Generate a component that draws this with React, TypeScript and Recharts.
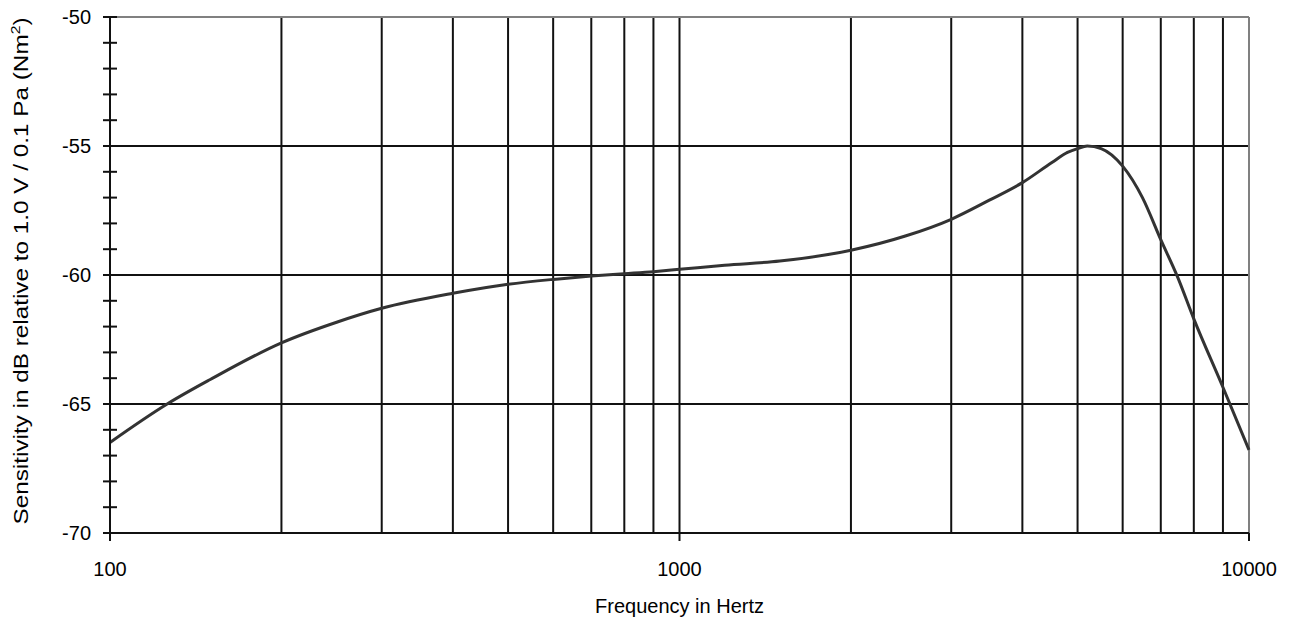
import {
  LineChart,
  Line,
  XAxis,
  YAxis,
  ReferenceLine,
} from "recharts";

// frequency (Hz) and sensitivity (dB)
const freqs = [
  100, 126, 150, 200, 250, 300, 400, 500, 600, 700, 800, 900, 1000, 1200, 1500,
  2000, 2500, 3000, 3500, 4000, 4500, 4800, 5000, 5200, 5500, 6000, 6500, 7000,
  7500, 8000, 9000, 10000,
];
const sensitivity = [
  -66.49, -65.0, -64.05, -62.63, -61.83, -61.29, -60.71, -60.36, -60.17, -60.04,
  -59.95, -59.87, -59.78, -59.62, -59.46, -59.04, -58.48, -57.84, -57.1, -56.42,
  -55.65, -55.25, -55.1, -55.0, -55.1, -55.78, -57.0, -58.63, -60.1, -61.7,
  -64.35, -66.78,
];

const xTicks = [100, 1000, 10000];
const xGrid = [200, 300, 400, 500, 600, 700, 800, 900, 1000, 2000, 3000, 4000, 5000, 6000, 7000, 8000, 9000];
const yTicks = [-70, -69, -68, -67, -66, -65, -64, -63, -62, -61, -60, -59, -58, -57, -56, -55, -54, -53, -52, -51, -50];
const yGrid = [-55, -60, -65];

const data = freqs.map((f, i) => ({ f, db: sensitivity[i] }));

const FONT = "'Liberation Sans', Arial, sans-serif";
const INK = "#111";

function YTick({ x, y, payload }: any) {
  const major = payload.value % 5 === 0;
  return (
    <g>
      <line x1={x - 7} x2={x + 7} y1={y} y2={y} stroke={INK} strokeWidth={2} />
      {major && (
        <text x={x - 19} y={y + 7} textAnchor="end" fontSize={20} fontFamily={FONT} fill="#000">
          {payload.value}
        </text>
      )}
    </g>
  );
}

function XTick({ x, y, payload }: any) {
  return (
    <g>
      <line x1={x} x2={x} y1={y} y2={y + 8} stroke={INK} strokeWidth={2} />
      <text x={x} y={y + 43} textAnchor="middle" fontSize={20} fontFamily={FONT} fill="#000">
        {payload.value}
      </text>
    </g>
  );
}

// the original title is stretched along its length
function YTitle({ viewBox }: any) {
  const cx = viewBox.x + 28;
  const cy = viewBox.y + viewBox.height / 2 - 4;
  return (
    <text
      x={0}
      y={0}
      transform={`translate(${cx} ${cy}) rotate(-90) scale(1.215 1)`}
      textAnchor="middle"
      fontSize={20}
      fontFamily={FONT}
      fill="#000"
    >
      Sensitivity in dB relative to 1.0 V / 0.1 Pa (Nm
      <tspan fontSize={13} dy={-8}>2</tspan>
      <tspan dy={8}>)</tspan>
    </text>
  );
}

function XTitle({ viewBox }: any) {
  const cx = viewBox.x + viewBox.width / 2;
  return (
    <text x={cx} y={613} textAnchor="middle" fontSize={20} fontFamily={FONT} fill="#000">
      Frequency in Hertz
    </text>
  );
}

export default function App() {
  return (
    <div style={{ position: "absolute", left: 0, top: 0, background: "#fff" }}>
      <LineChart
        width={1290}
        height={621}
        data={data}
        margin={{ top: 17, right: 41, left: 0, bottom: 0 }}
      >
        <XAxis
          dataKey="f"
          type="number"
          scale="log"
          domain={[100, 10000]}
          ticks={xTicks}
          interval={0}
          height={88}
          tickSize={0}
          tickMargin={0}
          tickLine={false}
          tick={<XTick />}
          axisLine={{ stroke: INK, strokeWidth: 2 }}
          label={<XTitle />}
        />
        <YAxis
          type="number"
          domain={[-70, -50]}
          ticks={yTicks}
          interval={0}
          width={110}
          tickSize={0}
          tickMargin={0}
          tickLine={false}
          tick={<YTick />}
          axisLine={{ stroke: INK, strokeWidth: 2 }}
          label={<YTitle />}
        />
        {xGrid.map((g) => (
          <ReferenceLine key={`x${g}`} x={g} stroke={INK} strokeWidth={2} />
        ))}
        {yGrid.map((g) => (
          <ReferenceLine key={`y${g}`} y={g} stroke={INK} strokeWidth={2} />
        ))}
        <ReferenceLine y={-50} stroke="#808080" strokeWidth={2} />
        <ReferenceLine x={10000} stroke="#808080" strokeWidth={2} />
        <Line
          dataKey="db"
          type="monotone"
          stroke="#333"
          strokeWidth={3}
          dot={false}
          isAnimationActive={false}
        />
      </LineChart>
    </div>
  );
}
